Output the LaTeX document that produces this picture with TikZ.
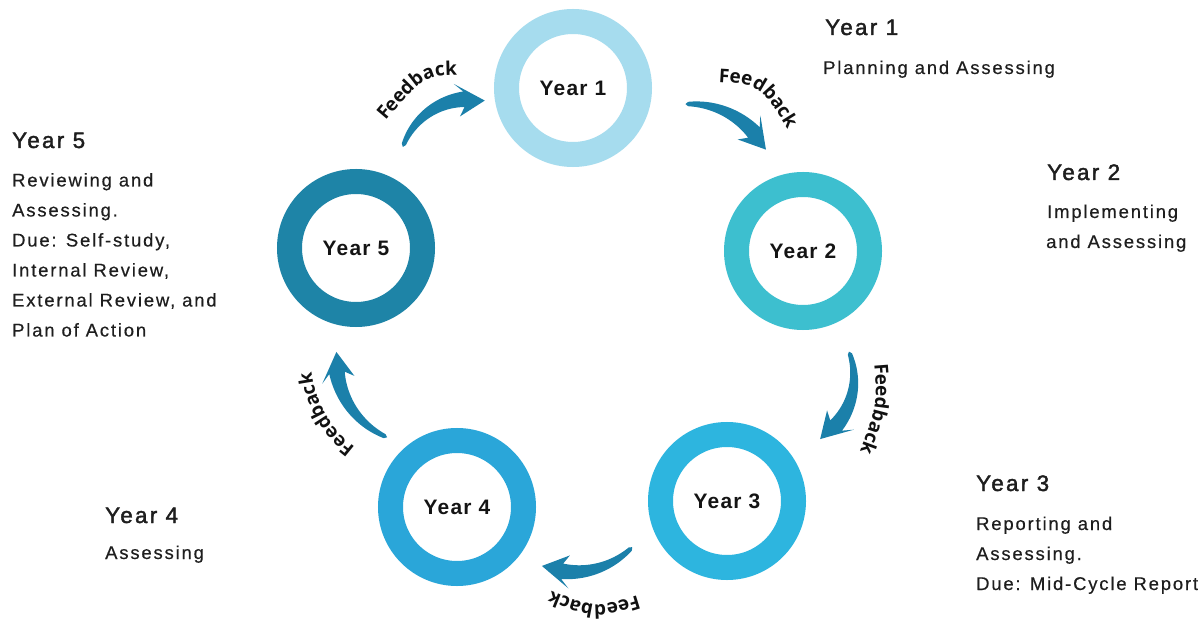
\documentclass[tikz,border=0pt]{standalone}
\usepackage{fontspec}
\setmainfont{Liberation Sans}
\newfontfamily\bodyf[LetterSpace=10,FakeBold=0.4]{Liberation Sans}
\newfontfamily\headf[LetterSpace=10,FakeBold=1.8]{Liberation Sans}
\newfontfamily\ringf[LetterSpace=6]{Liberation Sans}
\newfontfamily\fbf{Open Sans}
\usetikzlibrary{decorations.text}
\definecolor{cA}{HTML}{A6DCEE}
\definecolor{cB}{HTML}{3DBFCF}
\definecolor{cC}{HTML}{2DB5DF}
\definecolor{cD}{HTML}{2AA6D9}
\definecolor{cE}{HTML}{1E84A7}
\definecolor{arr}{HTML}{1B80AA}
\definecolor{txt}{HTML}{1E1E1E}
\definecolor{ringtext}{HTML}{141414}
\definecolor{fbtext}{HTML}{111111}
% #1 cx, #2 cy, #3 radius, #4 tail angle, #5 tip angle (screen angles, clockwise)
\newcommand\fbarrow[5]{%
  \pgfmathsetmacro\arcx{#1}\pgfmathsetmacro\arcy{#2}\pgfmathsetmacro\arR{#3}%
  \pgfmathsetmacro\arA{#4}\pgfmathsetmacro\arT{#5}%
  \pgfmathsetmacro\arH{\arT-(28/\arR)*180/pi}%
  \pgfmathsetmacro\arN{\arH+(7/\arR)*180/pi}%
  \fill[arr] ({\arcx+\arR*cos(\arA)},{\arcy+\arR*sin(\arA)})
    \foreach \i in {1,...,30}{ -- ({\arcx+(\arR+2+5.8*\i/30)*cos(\arA+(\arN-\arA)*\i/30)},{\arcy+(\arR+2+5.8*\i/30)*sin(\arA+(\arN-\arA)*\i/30)}) }
    -- ({\arcx+(\arR+16.5)*cos(\arH)},{\arcy+(\arR+16.5)*sin(\arH)})
    -- ({\arcx+\arR*cos(\arT)},{\arcy+\arR*sin(\arT)})
    -- ({\arcx+(\arR-16.5)*cos(\arH)},{\arcy+(\arR-16.5)*sin(\arH)})
    \foreach \i in {30,...,1}{ -- ({\arcx+(\arR-2-5.8*\i/30)*cos(\arA+(\arN-\arA)*\i/30)},{\arcy+(\arR-2-5.8*\i/30)*sin(\arA+(\arN-\arA)*\i/30)}) }
    -- cycle;}
\begin{document}
\begin{tikzpicture}[x=1bp,y=-1bp,
  ring/.style={circle, line width=25bp, minimum size=133bp, inner sep=0pt, text=ringtext, font=\ringf\bfseries\fontsize{21}{24}\selectfont},
  head/.style={anchor=base west, inner sep=0pt, text=txt, font=\headf\fontsize{22.5}{24}\selectfont},
  body/.style={anchor=base west, inner sep=0pt, text=txt, font=\bodyf\fontsize{18.5}{20}\selectfont},
  fb/.style={decorate, decoration={text along path, text={|\fbf\bfseries\fontsize{19}{20}\selectfont|Feedback}, text align=center, text color=fbtext}}]
\fill[white] (0,0) rectangle (1203,624);
\useasboundingbox (0,0) rectangle (1203,624);

% rings
\node[ring, draw=cA] (y1) at (573,88) {Year 1};
\node[ring, draw=cB] (y2) at (803,251) {Year 2};
\node[ring, draw=cC] (y3) at (727,501) {Year 3};
\node[ring, draw=cD] (y4) at (457,507) {Year 4};
\node[ring, draw=cE] (y5) at (356,248) {Year 5};

% feedback arrows
\fbarrow{470}{170}{71}{-161}{-78}
\fbarrow{690}{190}{86}{-93}{-28}
\fbarrow{782}{378}{72}{-21.5}{58}
\fbarrow{573}{489}{83}{44.5}{112}
\fbarrow{420}{360}{84}{113}{185.5}

% feedback labels
\coordinate (f1s) at (383,124); \coordinate (f1c) at (424,75.5); \coordinate (f1e) at (461,75);
\coordinate (f2s) at (714,82); \coordinate (f2c) at (760,84.5); \coordinate (f2e) at (790,133);
\coordinate (f3s) at (874,361); \coordinate (f3c) at (877.5,404.5); \coordinate (f3e) at (859,454);
\coordinate (f4s) at (642,594); \coordinate (f4c) at (595.5,608.5); \coordinate (f4e) at (547,589);
\coordinate (f5s) at ([shift={(420,360)}]122:109);
\path[fb] (f1s) .. controls (f1c) .. (f1e);
\path[fb] (f2s) .. controls (f2c) .. (f2e);
\path[fb] (f3s) .. controls (f3c) .. (f3e);
\path[fb] (f4s) .. controls (f4c) .. (f4e);
\path[fb] (f5s) arc[start angle=122, end angle=178, radius=109];

% descriptions
\node[head] (h1) at (825,35) {Year 1};
\node[body] (d1a) at (823,74) {Planning and Assessing};

\node[head] (h2) at (1047,180) {Year 2};
\node[body] (d2a) at (1047,218) {Implementing};
\node[body] (d2b) at (1046,248) {and Assessing};

\node[head] (h3) at (976,491) {Year 3};
\node[body] (d3a) at (976,530) {Reporting and};
\node[body] (d3b) at (976,560) {Assessing.};
\node[body] (d3c) at (976,590) {Due: Mid-Cycle Report};

\node[head] (h4) at (105,523) {Year 4};
\node[body] (d4a) at (105,559) {Assessing};

\node[head] (h5) at (12,148) {Year 5};
\node[body] (d5a) at (12,186.5) {Reviewing and};
\node[body] (d5b) at (12,216.5) {Assessing.};
\node[body] (d5c) at (12,246.5) {Due: Self-study,};
\node[body] (d5d) at (12,276.5) {Internal Review,};
\node[body] (d5e) at (12,306.5) {External Review, and};
\node[body] (d5f) at (12,336.5) {Plan of Action};
\end{tikzpicture}
\end{document}
